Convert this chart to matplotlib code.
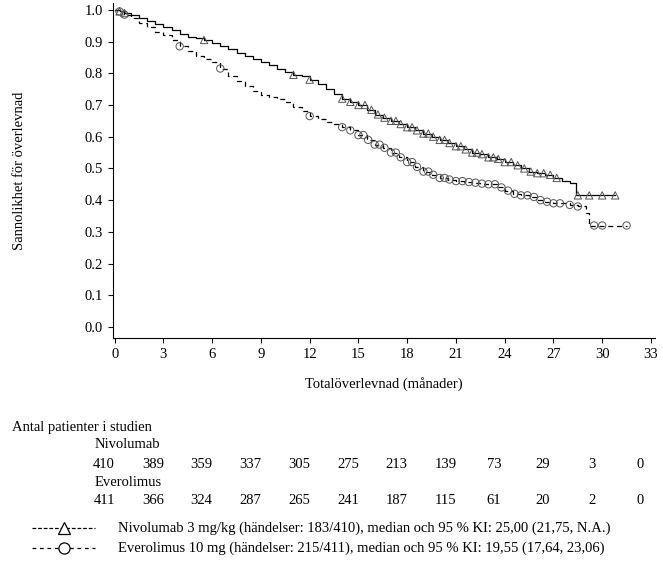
import numpy as np
import matplotlib
matplotlib.use("Agg")
import matplotlib.pyplot as plt
from matplotlib.lines import Line2D

plt.rcParams["font.family"] = ["Liberation Serif", "DejaVu Serif"]
plt.rcParams["font.size"] = 10.5

# step curves (time in months, survival probability), read roughly every half month
NIVO_T = [0, 0.3, 0.6, 1, 1.5, 2, 2.5, 3, 3.5, 4, 4.5, 5, 5.5, 6, 6.5, 7, 7.5, 8, 8.5, 9, 9.5, 10, 10.5, 11, 11.5, 12, 12.5, 13, 13.5, 14, 14.5, 15, 15.5, 16, 16.5, 17, 17.5, 18, 18.5, 19, 19.5, 20, 20.5, 21, 21.5, 22, 22.5, 23, 23.5, 24, 24.5, 25, 25.5, 26, 26.5, 27, 27.5, 28, 28.4, 30.8]
NIVO_S = [1.0, 0.995, 0.99, 0.985, 0.975, 0.965, 0.955, 0.945, 0.935, 0.925, 0.915, 0.91, 0.905, 0.895, 0.885, 0.875, 0.865, 0.855, 0.845, 0.835, 0.825, 0.815, 0.805, 0.795, 0.79, 0.78, 0.765, 0.75, 0.735, 0.72, 0.71, 0.70, 0.685, 0.67, 0.66, 0.65, 0.64, 0.63, 0.62, 0.61, 0.60, 0.59, 0.58, 0.57, 0.56, 0.55, 0.545, 0.535, 0.53, 0.52, 0.51, 0.50, 0.49, 0.485, 0.48, 0.47, 0.46, 0.455, 0.415, 0.415]
EVER_T = [0, 0.3, 0.6, 1, 1.5, 2, 2.5, 3, 3.5, 4, 4.5, 5, 5.5, 6, 6.5, 7, 7.5, 8, 8.5, 9, 9.5, 10, 10.5, 11, 11.5, 12, 12.5, 13, 13.5, 14, 14.5, 15, 15.5, 16, 16.5, 17, 17.5, 18, 18.5, 19, 19.5, 20, 20.5, 21, 21.5, 22, 22.5, 23, 23.5, 24, 24.5, 25, 25.5, 26, 26.5, 27, 27.5, 28, 28.5, 29, 29.2, 31.5]
EVER_S = [1.0, 0.995, 0.985, 0.975, 0.96, 0.945, 0.93, 0.92, 0.905, 0.885, 0.87, 0.855, 0.845, 0.835, 0.815, 0.79, 0.775, 0.76, 0.745, 0.73, 0.725, 0.72, 0.71, 0.695, 0.68, 0.665, 0.655, 0.645, 0.64, 0.63, 0.62, 0.605, 0.59, 0.575, 0.565, 0.55, 0.535, 0.52, 0.505, 0.49, 0.48, 0.47, 0.465, 0.46, 0.457, 0.455, 0.452, 0.45, 0.44, 0.43, 0.42, 0.415, 0.41, 0.40, 0.395, 0.39, 0.39, 0.385, 0.38, 0.36, 0.32, 0.32]

NIVO_CENS = [0.3, 0.6, 5.5, 11, 12, 14, 14.5, 15, 15.4, 15.8, 16.2, 16.6, 17, 17.3, 17.6, 18, 18.3, 18.6, 19, 19.3, 19.6, 20, 20.3, 20.6, 21, 21.3, 21.6, 22, 22.3, 22.6, 23, 23.3, 23.6, 24, 24.4, 24.8, 25.2, 25.6, 26, 26.4, 26.8, 27.2, 28.5, 29.2, 30, 30.8]
EVER_CENS = [0.3, 0.6, 4, 6.5, 12, 14, 14.5, 15, 15.3, 15.6, 16, 16.3, 16.6, 17, 17.3, 17.6, 18, 18.3, 18.6, 19, 19.3, 19.6, 20, 20.3, 20.6, 21, 21.4, 21.8, 22.2, 22.6, 23, 23.4, 23.8, 24.2, 24.6, 25, 25.4, 25.8, 26.2, 26.6, 27, 27.4, 28, 28.5, 29.5, 30, 31.5]

TICKS_X = list(range(0, 34, 3))
RISK_NIVO = [410, 389, 359, 337, 305, 275, 213, 139, 73, 29, 3, 0]
RISK_EVER = [411, 366, 324, 287, 265, 241, 187, 115, 61, 20, 2, 0]


def step_value(t_arr, s_arr, t):
    i = np.searchsorted(t_arr, t, side="right") - 1
    return np.asarray(s_arr)[i]


fig = plt.figure(figsize=(6.63, 5.74), dpi=100)
ax = fig.add_axes([0.170, 0.411, 0.818, 0.584])

ax.step(NIVO_T, NIVO_S, where="post", color="black", lw=0.9)
ax.step(EVER_T, EVER_S, where="post", color="black", lw=0.9, ls=(0, (4, 3)))
ax.scatter(NIVO_CENS, step_value(NIVO_T, NIVO_S, NIVO_CENS), marker="^", s=28,
           facecolors="none", edgecolors="#555555", linewidths=0.7, zorder=3)
ax.scatter(EVER_CENS, step_value(EVER_T, EVER_S, EVER_CENS), marker="o", s=28,
           facecolors="none", edgecolors="#555555", linewidths=0.7, zorder=3)

ax.set_xlim(-0.12, 33.25)
ax.set_ylim(-0.035, 1.022)
ax.set_xticks(TICKS_X)
ax.set_yticks(np.arange(0, 1.01, 0.1))
ax.yaxis.set_major_formatter(plt.FuncFormatter(lambda v, _: f"{v:.1f}"))
ax.spines["top"].set_visible(False)
ax.spines["right"].set_visible(False)
ax.set_xlabel("Totalöverlevnad (månader)", labelpad=12)
ax.set_ylabel("Sannolikhet för överlevnad", labelpad=42)

# risk table
trans = matplotlib.transforms.blended_transform_factory(ax.transData, fig.transFigure)
fig.text(12 / 663, 1 - 427 / 574, "Antal patienter i studien", va="center")
fig.text(95 / 663, 1 - 445 / 574, "Nivolumab", va="center")
fig.text(95 / 663, 1 - 482 / 574, "Everolimus", va="center")
for t, a, b in zip(TICKS_X, RISK_NIVO, RISK_EVER):
    ax.text(t - 0.65, 1 - 464 / 574, str(a), transform=trans, ha="center", va="center")
    ax.text(t - 0.65, 1 - 500 / 574, str(b), transform=trans, ha="center", va="center")

# legend
y1, y2 = 1 - 528 / 574, 1 - 548 / 574
fig.add_artist(Line2D([32 / 663, 95 / 663], [y1, y1], color="black", lw=0.9, ls=(0, (3, 1.5))))
fig.add_artist(Line2D([63.5 / 663], [y1], marker="^", ms=9, mfc="white", mec="black", mew=0.9))
fig.add_artist(Line2D([32 / 663, 95 / 663], [y2, y2], color="black", lw=0.9, ls=(0, (3, 3))))
fig.add_artist(Line2D([63.5 / 663], [y2], marker="o", ms=8, mfc="white", mec="black", mew=0.9))
fig.text(118 / 663, y1, "Nivolumab 3 mg/kg (händelser: 183/410), median och 95 % KI: 25,00 (21,75, N.A.)", va="center")
fig.text(118 / 663, y2, "Everolimus 10 mg (händelser: 215/411), median och 95 % KI: 19,55 (17,64, 23,06)", va="center")

fig.savefig("out.png", dpi=100)
